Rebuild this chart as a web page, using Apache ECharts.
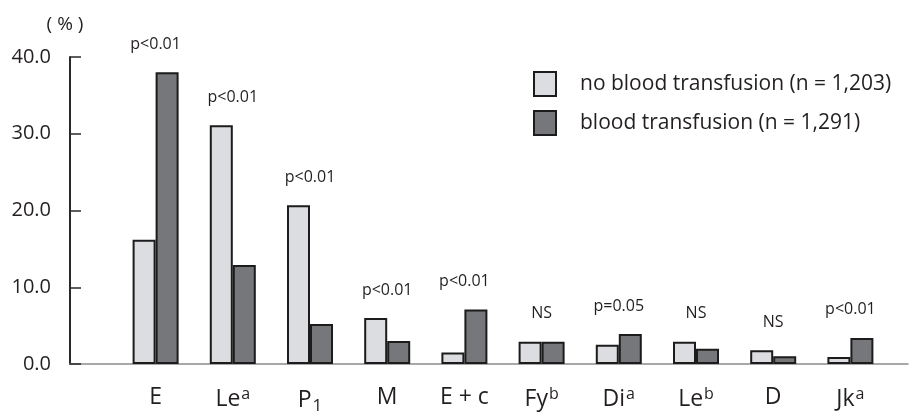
<!DOCTYPE html>
<html>
<head>
<meta charset="utf-8">
<script src="https://cdn.jsdelivr.net/npm/echarts@6/dist/echarts.min.js"></script>
<style>html,body{margin:0;padding:0;background:#fff}#c{width:909px;height:412px}</style>
</head>
<body>
<div id="c"></div>
<script>
const categories = ['E', 'Le{sup|a}', 'P{sub|1}', 'M', 'E + c', 'Fy{sup|b}', 'Di{sup|a}', 'Le{sup|b}', 'D', 'Jk{sup|a}'];
const noTransfusion = [16.2, 31.1, 20.7, 6.0, 1.5, 2.9, 2.5, 2.9, 1.8, 0.9];
const transfusion = [38.0, 12.9, 5.2, 3.0, 7.1, 2.9, 3.9, 2.0, 1.0, 3.4];
const pValues = ['p<0.01', 'p<0.01', 'p<0.01', 'p<0.01', 'p<0.01', 'NS', 'p=0.05', 'NS', 'NS', 'p<0.01'];
const seriesNames = ['no blood transfusion (n = 1,203)', 'blood transfusion (n = 1,291)'];
const yMin = 0, yMax = 40, yInterval = 10;

const FONT = 'Open Sans';
const TXT = '#231f20';
const chart = echarts.init(document.getElementById('c'), null, {renderer: 'canvas'});
const pairMax = noTransfusion.map((v, i) => Math.max(v, transfusion[i]));

chart.setOption({
  animation: false,
  textStyle: {fontFamily: FONT, color: TXT},
  grid: [
    {left: 117, right: 20, top: 57, bottom: 48, outerBoundsMode: 'none', containLabel: false},
    {left: 70, right: 1, top: 57, bottom: 48, outerBoundsMode: 'none', containLabel: false}
  ],
  legend: {
    orient: 'vertical',
    left: 528, top: 66,
    icon: 'rect',
    itemWidth: 22, itemHeight: 24, itemGap: 13,
    textStyle: {fontFamily: FONT, fontSize: 21, color: TXT, padding: [0, 0, 0, 19]},
    data: seriesNames
  },
  xAxis: [
    {
      type: 'category', gridIndex: 0, data: categories,
      axisLine: {show: false}, axisTick: {show: false},
      axisLabel: {
        interval: 0, margin: 22, fontSize: 23, color: TXT, fontFamily: FONT,
        rich: {
          sup: {fontSize: 16, padding: [0, 0, 10, 1], color: TXT, fontFamily: FONT},
          sub: {fontSize: 17, padding: [12, 0, 0, 1], color: TXT, fontFamily: FONT}
        }
      }
    },
    {
      type: 'value', gridIndex: 1, min: 0, max: 1,
      axisLine: {show: true, lineStyle: {color: '#8c8c8c', width: 1.5}},
      axisTick: {show: false}, axisLabel: {show: false}, splitLine: {show: false}
    }
  ],
  yAxis: [
    {
      type: 'value', gridIndex: 0, min: yMin, max: yMax, interval: yInterval,
      show: false
    },
    {
      type: 'value', gridIndex: 1, min: yMin, max: yMax, interval: yInterval,
      name: '( % )', nameLocation: 'end', nameGap: 23,
      nameTextStyle: {fontSize: 19, color: TXT, fontFamily: FONT, padding: [0, 10, 0, 0]},
      axisLine: {show: true, lineStyle: {color: '#2a2a2a', width: 2}},
      axisTick: {show: true, inside: true, length: 11, lineStyle: {color: '#2a2a2a', width: 1.5}},
      axisLabel: {margin: 19, fontSize: 20, color: TXT, fontFamily: FONT, formatter: v => v.toFixed(1)},
      splitLine: {show: false}
    }
  ],
  series: [
    {
      name: seriesNames[0], type: 'bar', xAxisIndex: 0, yAxisIndex: 0,
      data: noTransfusion, barWidth: 23, barGap: '0%',
      itemStyle: {color: '#dcdde0', borderColor: '#1c1c1c', borderWidth: 2}
    },
    {
      name: seriesNames[1], type: 'bar', xAxisIndex: 0, yAxisIndex: 0,
      data: transfusion, barWidth: 23, barGap: '0%',
      itemStyle: {color: '#76777a', borderColor: '#1c1c1c', borderWidth: 2}
    },
    {
      name: 'p', type: 'custom', xAxisIndex: 0, yAxisIndex: 0, silent: true,
      data: pairMax.map((v, i) => [i, v]),
      renderItem: (params, api) => {
        const pt = api.coord([api.value(0), api.value(1)]);
        return {
          type: 'text',
          x: pt[0], y: pt[1] - 20,
          style: {
            text: pValues[params.dataIndex],
            fontSize: 16, fontFamily: FONT, fill: TXT,
            align: 'center', verticalAlign: 'bottom'
          }
        };
      }
    }
  ]
});
</script>
</body>
</html>
